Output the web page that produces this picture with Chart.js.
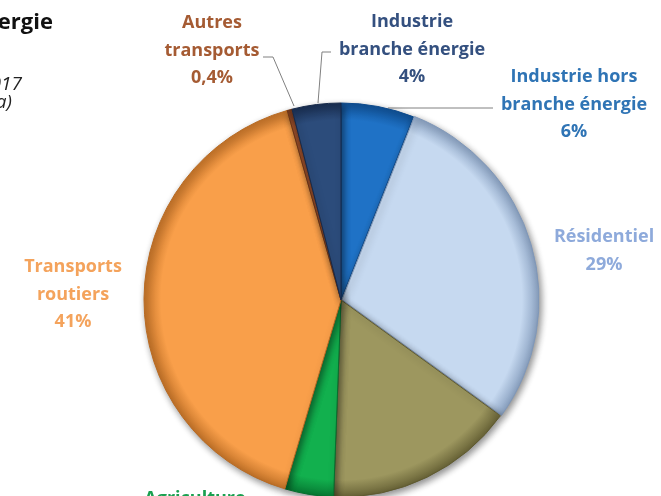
<!DOCTYPE html>
<html>
<head>
<meta charset="utf-8">
<script src="https://cdn.jsdelivr.net/npm/chart.js@4"></script>
<style>
  html, body { margin: 0; padding: 0; background: #fff; overflow: hidden; width: 661px; height: 496px; }
  #wrap { position: absolute; left: 0; top: 0; width: 661px; height: 600px; }
</style>
</head>
<body>
<div id="wrap"><canvas id="pie" width="661" height="600"></canvas></div>
<script>
// parts de la consommation finale d'énergie, en %
var secteurs = ["Industrie hors branche énergie", "Résidentiel", "Tertiaire", "Agriculture",
  "Transports routiers", "Autres transports", "Industrie branche énergie"];
var parts = [6, 29, 15.6, 4, 41, 0.4, 4];
var couleurs = ["#1f72c6", "#c6d9f0", "#9d975f", "#12b04e", "#f99f4a", "#a0522d", "#2c4c7b"];
var bords = ["#0d4a8c", "#7f97b8", "#5f5a30", "#05702e", "#b86a22", "#6b3418", "#16294a"];

// textes des étiquettes : lignes, centre x, première ligne de base, couleur
var etiquettes = [
  { lignes: ["Autres", "transports", "0,4%"], x: 212, y: 28, coul: "#a55b33" },
  { lignes: ["Industrie", "branche énergie", "4%"], x: 412, y: 27, coul: "#34507f" },
  { lignes: ["Industrie hors", "branche énergie", "6%"], x: 574, y: 82, coul: "#2f74b5" },
  { lignes: ["Résidentiel", "29%"], x: 604, y: 242, coul: "#8eaadb" },
  { lignes: ["Transports", "routiers", "41%"], x: 73, y: 272, coul: "#f4a35c" },
  { lignes: ["Agriculture", "4%"], x: 195, y: 504, coul: "#1aa050" }
];

// traits de rappel
var traits = [
  [[263, 57], [273, 57], [294, 106]],
  [[331, 52], [322, 52], [318, 103]],
  [[388, 108], [493, 108]]
];

function degrade(c) {
  var i = c.dataIndex;
  var area = c.chart.chartArea;
  if (!area) return couleurs[i];
  var cx = (area.left + area.right) / 2, cy = (area.top + area.bottom) / 2;
  var g = c.chart.ctx.createRadialGradient(cx, cy, 0, cx, cy, 200);
  g.addColorStop(0, couleurs[i]);
  g.addColorStop(0.9, couleurs[i]);
  g.addColorStop(1, bords[i]);
  return g;
}

var decor = {
  id: "decor",
  beforeDatasetsDraw: function (chart) {
    var ctx = chart.ctx;
    ctx.save();
    ctx.strokeStyle = "#808080";
    ctx.lineWidth = 1;
    traits.forEach(function (t) {
      ctx.beginPath();
      ctx.moveTo(t[0][0], t[0][1]);
      for (var k = 1; k < t.length; k++) ctx.lineTo(t[k][0], t[k][1]);
      ctx.stroke();
    });
    ctx.restore();
    ctx.save();
    ctx.shadowColor = "rgba(0,0,0,0.45)";
    ctx.shadowBlur = 7;
    ctx.shadowOffsetX = 2;
    ctx.shadowOffsetY = 3;
  },
  afterDatasetsDraw: function (chart) {
    chart.ctx.restore();
  },
  afterDraw: function (chart) {
    var ctx = chart.ctx;
    ctx.save();
    ctx.textAlign = "center";
    ctx.textBaseline = "alphabetic";
    ctx.font = "bold 18px 'Open Sans'";
    etiquettes.forEach(function (e) {
      ctx.fillStyle = e.coul;
      e.lignes.forEach(function (l, k) {
        ctx.fillText(l, e.x, e.y + k * 27.5);
      });
    });
    // titre, coupé sur la gauche
    ctx.textAlign = "right";
    ctx.fillStyle = "#111";
    ctx.font = "bold 22px 'Open Sans'";
    ctx.fillText("Consommation finale d'énergie", 53, 29);
    ctx.font = "italic 19px 'Open Sans'";
    ctx.fillStyle = "#222";
    ctx.fillText("par secteur en 2017", 22, 90);
    ctx.fillText("(source : Citepa)", 12, 108);
    ctx.restore();
  }
};

new Chart(document.getElementById("pie"), {
  type: "pie",
  data: {
    labels: secteurs,
    datasets: [{
      data: parts,
      backgroundColor: degrade,
      borderColor: bords,
      borderWidth: 1,
      offset: [0, 4, 0, 0, 0, 0, 0]
    }]
  },
  options: {
    responsive: false,
    animation: false,
    radius: 197,
    layout: { padding: { top: 103, bottom: 103, left: 144, right: 123 } },
    plugins: {
      legend: { display: false },
      tooltip: { enabled: false }
    }
  },
  plugins: [decor]
});
</script>
</body>
</html>
